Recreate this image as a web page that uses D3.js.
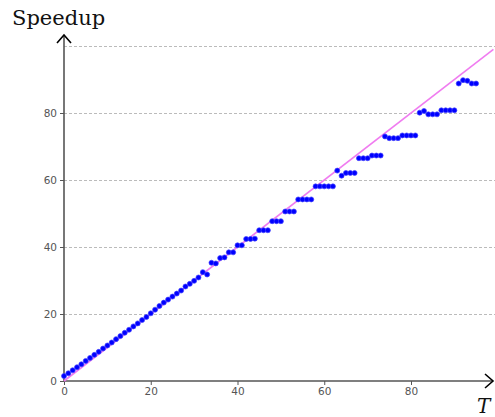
<!DOCTYPE html>
<html>
<head>
<meta charset="utf-8">
<script src="https://cdn.jsdelivr.net/npm/d3@7"></script>
<style>
  body { margin: 0; background: #fff; }
  svg { display: block; }
</style>
</head>
<body>
<div id="chart"></div>
<script>
// Measured speedup for each T
const tValues = d3.range(0, 96);
const speedup = [
  1.5, 2.3, 3.2, 4.1, 5.0, 6.0, 6.9, 7.8, 8.7, 9.7,
  10.6, 11.5, 12.5, 13.4, 14.4, 15.3, 16.3, 17.2, 18.2, 19.1,
  20.2, 21.3, 22.4, 23.4, 24.3, 25.2, 26.1, 27.0, 28.2, 29.0,
  29.9, 30.9, 32.5, 31.8, 35.3, 35.1, 36.7, 36.9, 38.4, 38.4,
  40.5, 40.5, 42.4, 42.4, 42.5, 45.0, 45.0, 45.0, 47.7, 47.7,
  47.7, 50.6, 50.6, 50.6, 54.2, 54.2, 54.2, 54.2, 58.1, 58.1,
  58.1, 58.1, 58.1, 62.8, 61.3, 62.1, 62.1, 62.1, 66.5, 66.5,
  66.5, 67.3, 67.3, 67.3, 73.0, 72.5, 72.5, 72.5, 73.3, 73.3,
  73.3, 73.3, 80.1, 80.6, 79.6, 79.6, 79.6, 80.8, 80.8, 80.8,
  80.8, 88.8, 89.8, 89.6, 88.8, 88.8
];
const idealLine = [0, 99];
const xTicks = [0, 20, 40, 60, 80];
const yTicks = [0, 20, 40, 60, 80];
const gridValues = [20, 40, 60, 80, 100];

const width = 495;
const height = 417;

const svg = d3.select("#chart")
    .append("svg")
    .attr("width", width)
    .attr("height", height);

const x = d3.scaleLinear().domain([0, 100]).range([64, 497.75]);
const y = d3.scaleLinear().domain([0, 100]).range([381, 46]);

// dashed horizontal grid
svg.append("g")
    .selectAll("line")
    .data(gridValues)
    .enter()
    .append("line")
    .attr("x1", x(0))
    .attr("x2", width)
    .attr("y1", d => y(d) + 0.5)
    .attr("y2", d => y(d) + 0.5)
    .attr("stroke", "#aaa")
    .attr("stroke-width", 0.8)
    .attr("stroke-dasharray", "3,2");

// x axis
const xAxis = svg.append("g")
    .attr("transform", `translate(0,${y(0)})`)
    .call(d3.axisBottom(x).tickValues(xTicks).tickSize(4).tickPadding(3).tickFormat(d3.format("d")));
xAxis.select(".domain").remove();

// y axis
const yAxis = svg.append("g")
    .attr("transform", `translate(${x(0)},0)`)
    .call(d3.axisLeft(y).tickValues(yTicks).tickSize(4).tickPadding(3).tickFormat(d3.format("d")));
yAxis.select(".domain").remove();

svg.selectAll(".tick line").attr("stroke", "#555");
svg.selectAll(".tick text")
    .attr("fill", "#555")
    .style("font-family", "DejaVu Sans, sans-serif")
    .style("font-size", "10.5px");

// axis lines with arrows
svg.append("line")
    .attr("x1", x(0)).attr("x2", 493)
    .attr("y1", y(0)).attr("y2", y(0))
    .attr("stroke", "#555").attr("stroke-width", 1.6);
svg.append("line")
    .attr("x1", x(0)).attr("x2", x(0))
    .attr("y1", y(0)).attr("y2", 35)
    .attr("stroke", "#555").attr("stroke-width", 1.6);

svg.append("path")
    .attr("d", `M485,${y(0) - 7} L493,${y(0)} L485,${y(0) + 7}`)
    .attr("fill", "none").attr("stroke", "#000").attr("stroke-width", 1.6);
svg.append("path")
    .attr("d", `M${x(0) - 7},43 L${x(0)},35 L${x(0) + 7},43`)
    .attr("fill", "none").attr("stroke", "#000").attr("stroke-width", 1.6);

// ideal speedup line
svg.append("line")
    .attr("x1", x(idealLine[0])).attr("y1", y(idealLine[0]))
    .attr("x2", x(idealLine[1])).attr("y2", y(idealLine[1]))
    .attr("stroke", "#f07cf0")
    .attr("stroke-width", 1.6);

// measured points
svg.append("g")
    .selectAll("circle")
    .data(tValues)
    .enter()
    .append("circle")
    .attr("cx", d => x(d))
    .attr("cy", (d, i) => y(speedup[i]))
    .attr("r", 2.5)
    .attr("fill", "#0000ff")
    .attr("stroke", "#4444ff")
    .attr("stroke-width", 0.7);

// axis titles
svg.append("text")
    .attr("x", 12)
    .attr("y", 25)
    .style("font-family", "DejaVu Serif, Liberation Serif, serif")
    .style("font-size", "21px")
    .attr("fill", "#111")
    .text("Speedup");

svg.append("text")
    .attr("x", 477)
    .attr("y", 413)
    .style("font-family", "DejaVu Serif, Liberation Serif, serif")
    .style("font-style", "italic")
    .style("font-size", "20px")
    .attr("fill", "#111")
    .text("T");
</script>
</body>
</html>
